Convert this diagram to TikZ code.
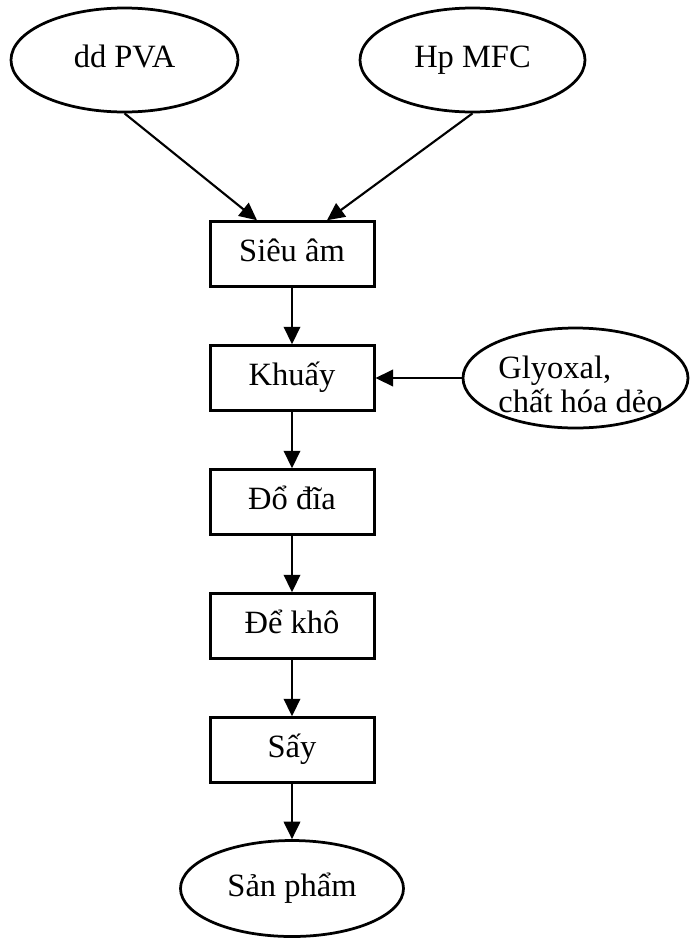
\documentclass[tikz,border=0pt]{standalone}
\usepackage{fontspec}
\setmainfont{Liberation Serif}
\usetikzlibrary{positioning, arrows.meta, shapes.geometric}
\tikzset{
->, % every connector is an arrow
>={Triangle[length=7pt, width=6.6pt]}, % filled triangle heads
node distance=49.6pt, % centre to centre between two steps
every node/.style={font=\fontsize{13pt}{13.6pt}\selectfont},
stepbox/.style={draw, rectangle, line width=1.2pt, minimum width=65.6pt, minimum height=25.8pt, inner sep=0pt, text height=9pt, text depth=2.7pt}, % one process step
material/.style={draw, ellipse, line width=1.1pt, inner sep=0pt, text height=9pt, text depth=2.7pt}, % inputs and product
}
\begin{document}
\begin{tikzpicture}[x=0.4pt, y=-0.4pt]
            \useasboundingbox (0,0) rectangle (690,941);
            \node[material, minimum width=90.8pt, minimum height=41.6pt] (pva) at (124.5,60) {dd PVA};
            \node[material, minimum width=90pt, minimum height=41.6pt] (mfc) at (472.5,60) {Hp MFC};
            \node[stepbox] (sieuam) at (292,254) {Siêu âm};
            \node[stepbox, below of=sieuam] (khuay) {Khuấy};
            \node[stepbox, below of=khuay] (dodia) {Đổ đĩa};
            \node[stepbox, below of=dodia] (dekho) {Để khô};
            \node[stepbox, below of=dekho] (say) {Sấy};
            \node[material, node distance=55.4pt, below of=say, minimum width=89.2pt, minimum height=38.4pt] (sanpham) {Sản phẩm};
            \node[material, node distance=113.4pt, right of=khuay, minimum width=90pt, minimum height=40pt] (glyx) {};
            \node[align=left] (glyxtext) at ([xshift=2pt, yshift=-2.4pt]glyx.center) {Glyoxal,\\chất hóa dẻo};
            \path[line width=0.85pt]
                (pva.south) edge ([xshift=-14pt]sieuam.north)
                (mfc.south) edge ([xshift=14pt]sieuam.north)
                (sieuam) edge (khuay)
                (glyx) edge (khuay)
                (khuay) edge (dodia)
                (dodia) edge (dekho)
                (dekho) edge (say)
                (say) edge (sanpham)
                ;
            \end{tikzpicture}
\end{document}
